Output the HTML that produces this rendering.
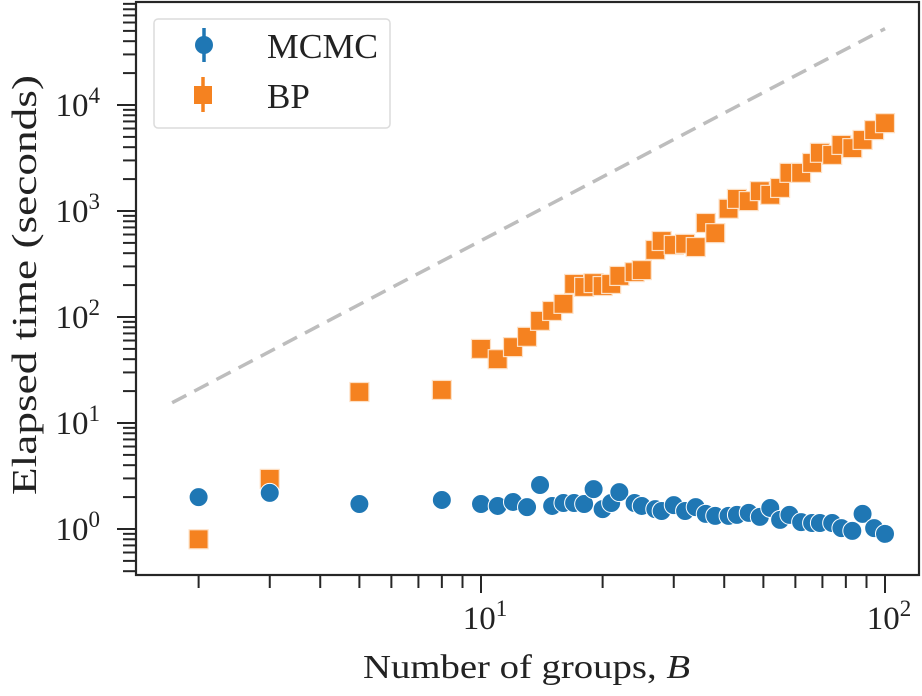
<!DOCTYPE html>
<html><head><meta charset="utf-8"><style>
body{margin:0;background:#fff}
svg text{font-family:"Liberation Serif",serif;fill:#222}
</style></head><body>
<svg id="chart" width="922" height="691" viewBox="0 0 922 691" xmlns="http://www.w3.org/2000/svg">
<g id="plot"></g>
</svg>
<script>
const groups = [2,3,5,8,10,11,12,13,14,15,16,17,18,19,20,21,22,24,25,27,28,30,32,34,36,38,41,43,46,49,52,55,58,62,66,69,74,78,83,88,94,100];
const mcmcTimes = [2.0,2.19,1.72,1.88,1.72,1.65,1.80,1.61,2.60,1.65,1.76,1.76,1.72,2.38,1.54,1.76,2.23,1.76,1.65,1.54,1.48,1.68,1.48,1.61,1.39,1.33,1.33,1.36,1.42,1.30,1.58,1.22,1.36,1.16,1.14,1.14,1.14,1.02,0.96,1.39,1.02,0.90];
const bpTimes = [0.80,2.97,19.6,20.5,50,40,52,65,92,114,133,205,192,209,196,205,244,265,277,429,521,478,490,457,771,618,1050,1300,1240,1540,1420,1650,2290,2290,2840,3540,3380,4200,3920,4680,5800,6740];
const refLineX = [1.72,100];
const refCoef = 5.25;
const yTickExps = [0,1,2,3,4];
const xTickExps = [1,2];

const NS="http://www.w3.org/2000/svg";
const L=136,R=919,T=2,B=575;
const X0=481,XD=404,Y0=529,YD=106;
function sx(v){return X0+(Math.log10(v)-1)*XD;}
function sy(v){return Y0-Math.log10(v)*YD;}
const plot=document.getElementById('plot');
function mk(tag,attrs,parent){const e=document.createElementNS(NS,tag);for(const k in attrs)e.setAttribute(k,attrs[k]);(parent||plot).appendChild(e);return e;}

const frame=mk('rect',{x:L,y:T,width:R-L,height:B-T,fill:'none',stroke:'#262626','stroke-width':2.2});



for(let e=-1;e<=4;e++){
  for(let m=1;m<10;m++){
    const v=m*Math.pow(10,e);const y=sy(v);
    if(y<T||y>B)continue;
    const t=mk('line',{x1:L,x2:m===1?117:123,y1:y,y2:y,stroke:'#262626','stroke-width':2});
    
    
  }
}
yTickExps.forEach(e=>{
  const y=sy(Math.pow(10,e));
  const tx=mk('text',{x:100,y:y+11,'text-anchor':'end','font-size':33});
  
  
  tx.innerHTML='10<tspan dy="-13" font-size="23">'+e+'</tspan>';
});
for(let e=0;e<=2;e++){
  for(let m=1;m<10;m++){
    const v=m*Math.pow(10,e);const x=sx(v);
    if(x<L||x>R)continue;
    const t=mk('line',{x1:x,x2:x,y1:B,y2:m===1?593:588,stroke:'#262626','stroke-width':2});
    
    
  }
}
xTickExps.forEach(e=>{
  const x=sx(Math.pow(10,e));
  const tx=mk('text',{x:x+4,y:629,'text-anchor':'middle','font-size':33});
  
  
  tx.innerHTML='10<tspan dy="-13" font-size="23">'+e+'</tspan>';
});
const xt=mk('text',{x:363,y:678,'font-size':34,textLength:327,lengthAdjust:'spacingAndGlyphs'});


xt.innerHTML='Number of groups, <tspan font-style="italic">B</tspan>';
const yt=mk('text',{x:0,y:0,'text-anchor':'middle','font-size':35,textLength:420,lengthAdjust:'spacingAndGlyphs',transform:'translate(36,285) rotate(-90)'});


yt.textContent='Elapsed time (seconds)';

const rl=mk('line',{x1:sx(refLineX[0]),y1:sy(refCoef*refLineX[0]*refLineX[0]),x2:sx(refLineX[1]),y2:sy(refCoef*refLineX[1]*refLineX[1]),stroke:'#bdbdbd','stroke-width':3.5,'stroke-dasharray':'16,9'});



groups.forEach((g,i)=>{
  const x=sx(g),y=sy(bpTimes[i]);
  const s=mk('rect',{x:x-9.5,y:y-9.5,width:19,height:19,fill:'#f58220',stroke:'#fde0c5','stroke-width':1.2});
  
  
});
groups.forEach((g,i)=>{
  const x=sx(g),y=sy(mcmcTimes[i]);
  const c=mk('circle',{cx:x,cy:y,r:9.5,fill:'#1f77b4',stroke:'#ffffff','stroke-width':1});
  
  
});

const lg=mk('g',{});


mk('rect',{x:154,y:19,width:236,height:109,rx:4,fill:'#fff',stroke:'#dcdcdc','stroke-width':1.5},lg);
const le1=mk('g',{},lg);


mk('line',{x1:204,x2:204,y1:28,y2:62,stroke:'#1f77b4','stroke-width':3.5},le1);
mk('circle',{cx:204,cy:45,r:9,fill:'#1f77b4'},le1);
const t1=mk('text',{x:267,y:58,'font-size':35,textLength:111,lengthAdjust:'spacingAndGlyphs'},le1);t1.textContent='MCMC';
const le2=mk('g',{},lg);


mk('line',{x1:203,x2:203,y1:77,y2:112,stroke:'#f58220','stroke-width':3.5},le2);
mk('rect',{x:194,y:86,width:18,height:18,fill:'#f58220'},le2);
const t2=mk('text',{x:267,y:108,'font-size':35},le2);t2.textContent='BP';
</script>
</body></html>
